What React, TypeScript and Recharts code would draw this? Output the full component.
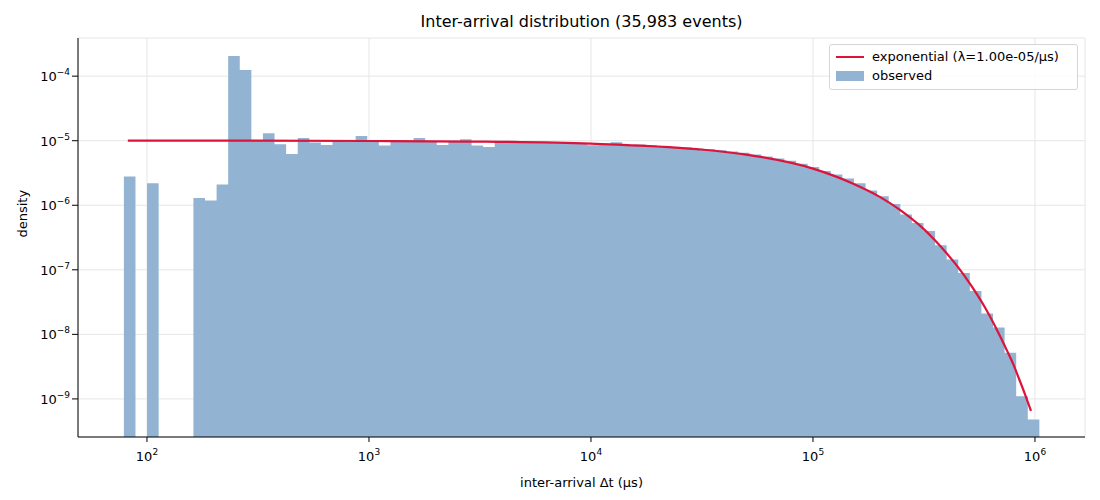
import React from 'react';
import { ComposedChart, Area, Line, XAxis, YAxis, CartesianGrid } from 'recharts';

// histogram: 79 log-spaced bins from ~78.7 us, each ~0.0522 decades wide
const binStart = 78.7;
const binLogWidth = 0.0522;
const FLOOR = 2.57e-10; // empty bins sit at the axis floor

const density = [
  2.8e-6, FLOOR, 2.2e-6, FLOOR, FLOOR, FLOOR, 1.3e-6, 1.18e-6, 2.1e-6, 2.05e-4,
  1.25e-4, 1.0e-5, 1.3e-5, 8.8e-6, 6.2e-6, 1.1e-5, 9.4e-6, 8.6e-6, 1.0e-5, 9.6e-6,
  1.18e-5, 1.0e-5, 8.4e-6, 1.02e-5, 1.0e-5, 1.1e-5, 9.6e-6, 8.6e-6, 9.8e-6, 1.05e-5,
  8.4e-6, 8.0e-6, 1.0e-5, 1.0e-5, 9.6e-6, 9.5e-6, 9.4e-6, 9.1e-6, 9.2e-6, 9.0e-6,
  8.5e-6, 8.6e-6, 9.5e-6, 8.6e-6, 8.7e-6, 8.5e-6, 8.3e-6, 8.0e-6, 7.9e-6, 7.6e-6,
  7.4e-6, 7.1e-6, 6.8e-6, 6.5e-6, 6.1e-6, 5.7e-6, 5.3e-6, 4.9e-6, 4.4e-6, 3.9e-6,
  3.4e-6, 3.0e-6, 2.6e-6, 2.2e-6, 1.7e-6, 1.38e-6, 1.05e-6, 7.2e-7, 5.3e-7, 4.0e-7,
  2.4e-7, 1.45e-7, 8.9e-8, 4.7e-8, 2.1e-8, 1.28e-8, 5.2e-9, 1.1e-9, 4.8e-10,
];

// fitted exponential curve
const fitT = [82, 300, 1000, 3000, 10000, 30000, 50000, 100000, 150000, 200000, 250000, 300000,
  350000, 400000, 450000, 500000, 550000, 600000, 650000, 700000, 750000, 800000, 850000, 900000, 960000];
const fitD = [1.0e-5, 1.0e-5, 9.9e-6, 9.7e-6, 9.0e-6, 7.4e-6, 6.1e-6, 3.7e-6, 2.2e-6, 1.35e-6, 8.2e-7, 5.0e-7,
  3.0e-7, 1.8e-7, 1.1e-7, 6.7e-8, 4.1e-8, 2.5e-8, 1.5e-8, 9.0e-9, 5.5e-9, 3.4e-9, 2.0e-9, 1.2e-9, 6.5e-10];

const xTicks = [100, 1000, 10000, 100000, 1000000];
const yTicks = [1e-9, 1e-8, 1e-7, 1e-6, 1e-5, 1e-4];

const histData = density.map((d, i) => ({ t: binStart * Math.pow(10, binLogWidth * i), d }));
histData.push({ t: binStart * Math.pow(10, binLogWidth * density.length), d: density[density.length - 1] });
const fitData = fitT.map((t, i) => ({ t, f: fitD[i] }));

const FONT = 'DejaVu Sans, sans-serif';

const XTick = (props: any) => {
  const { x, y, payload } = props;
  const e = Math.round(Math.log10(payload.value));
  return (
    <g>
      <line x1={x} x2={x} y1={y - 8} y2={y - 3} stroke="#000" />
      <text x={x} y={y + 16} textAnchor="middle" fontSize={13} fontFamily={FONT} fill="#000">
        10<tspan dy={-6} fontSize={9}>{e}</tspan>
      </text>
    </g>
  );
};

const YTick = (props: any) => {
  const { x, y, payload } = props;
  const e = Math.round(Math.log10(payload.value));
  return (
    <text x={x} y={y + 5} textAnchor="end" fontSize={13} fontFamily={FONT} fill="#000">
      10<tspan dy={-6} fontSize={9}>{'\u2212' + Math.abs(e)}</tspan>
    </text>
  );
};

export default function App() {
  return (
    <div style={{ position: 'relative', width: 1100, height: 500, margin: -8, background: '#fff', fontFamily: FONT }}>
      <div style={{ position: 'absolute', top: 12, left: 78, width: 1007, textAlign: 'center', fontSize: 16 }}>
        Inter-arrival distribution (35,983 events)
      </div>
      <ComposedChart width={1100} height={500} margin={{ top: 38, right: 15, bottom: 33, left: 20 }}>
        <CartesianGrid stroke="#e6e6e6" />
        <XAxis
          dataKey="t" type="number" scale="log" domain={[48.9, 1.68e6]} allowDataOverflow
          ticks={xTicks} tick={<XTick />} tickLine={false} stroke="#000" height={30}
          label={{ value: 'inter-arrival \u0394t (\u03bcs)', position: 'insideBottom', offset: -20, fontSize: 13, fill: '#000', fontFamily: FONT }}
        />
        <YAxis
          type="number" scale="log" domain={[FLOOR, 3.9e-4]} allowDataOverflow width={58}
          ticks={yTicks} tick={<YTick />} stroke="#000"
          label={{ value: 'density', angle: -90, position: 'insideLeft', offset: 2, fontSize: 13, fill: '#000', fontFamily: FONT }}
        />
        <Area data={histData} dataKey="d" type="stepAfter" baseValue={FLOOR} fill="#92b3d2" fillOpacity={1}
          stroke="none" isAnimationActive={false} />
        <Line data={fitData} dataKey="f" type="monotone" stroke="#dc143c" strokeWidth={2.2} dot={false}
          isAnimationActive={false} />
      </ComposedChart>
      <div style={{ position: 'absolute', left: 829, top: 44, width: 247, height: 44, border: '1px solid #d5d5d5',
        borderRadius: 3, background: 'rgba(255,255,255,0.85)', fontSize: 13 }}>
        <div style={{ display: 'flex', alignItems: 'center', marginTop: 4 }}>
          <span style={{ display: 'inline-block', width: 28, height: 2, background: '#dc143c', margin: '0 8px 0 6px' }} />
          exponential (λ=1.00e-05/μs)
        </div>
        <div style={{ display: 'flex', alignItems: 'center', marginTop: 4 }}>
          <span style={{ display: 'inline-block', width: 28, height: 10, background: '#92b3d2', margin: '0 8px 0 6px' }} />
          observed
        </div>
      </div>
    </div>
  );
}
